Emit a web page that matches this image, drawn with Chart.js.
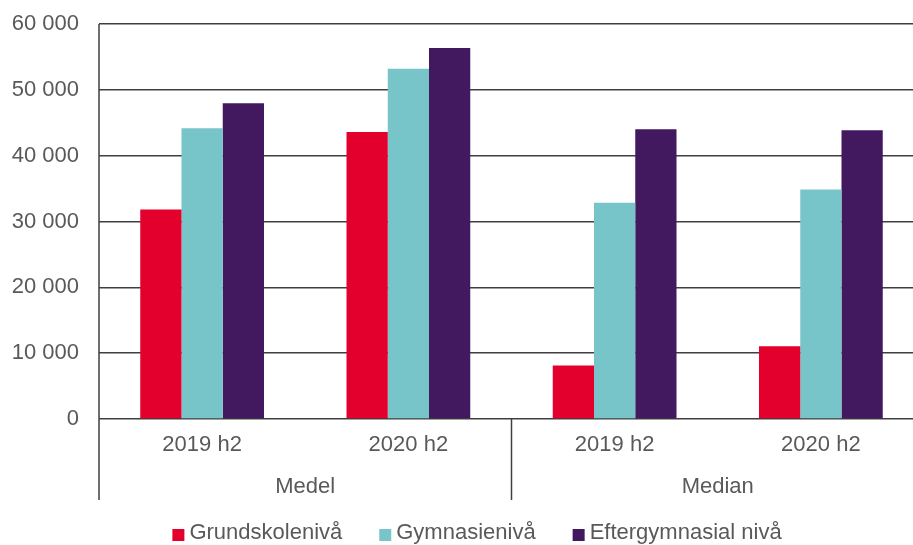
<!DOCTYPE html>
<html>
<head>
<meta charset="utf-8">
<script src="https://cdn.jsdelivr.net/npm/chart.js@4"></script>
<style>
  html, body { margin: 0; padding: 0; background: #fff; overflow: hidden; }
  #wrap { width: 913px; height: 545px; overflow: hidden; }
</style>
</head>
<body>
<div id="wrap"><canvas id="chart" width="924" height="545"></canvas></div>
<script>
const periods = ['2019 h2', '2020 h2', '2019 h2', '2020 h2'];
const groups = ['Medel', 'Median'];
const seriesNames = ['Grundskolenivå', 'Gymnasienivå', 'Eftergymnasial nivå'];
const grundskola = [31830, 43600, 8120, 11060];
const gymnasie = [44160, 53190, 32830, 34870];
const eftergymnasial = [47970, 56340, 44010, 43860];
const colors = ['#e3002c', '#77c5c8', '#42185e'];

const font = '"Liberation Sans", Arial, sans-serif';
const textColor = '#595959';

function fmt(v) {
  return String(v).replace(/\B(?=(\d{3})+(?!\d))/g, ' ');
}

const groupsPlugin = {
  id: 'groups',
  afterDraw(chart) {
    const ctx = chart.ctx;
    const area = chart.chartArea;
    const x = chart.scales.x;
    const bottom = 500;
    ctx.save();
    ctx.strokeStyle = '#3f3f3f';
    ctx.lineWidth = 1.5;
    // left axis line, reaching down past the labels
    ctx.beginPath();
    ctx.moveTo(area.left, area.top);
    ctx.lineTo(area.left, bottom);
    ctx.stroke();
    // separator between the two groups
    const per = periods.length / groups.length;
    const step = x.getPixelForValue(1) - x.getPixelForValue(0);
    for (let g = 1; g < groups.length; g++) {
      const sx = x.getPixelForValue(g * per) - step / 2;
      ctx.beginPath();
      ctx.moveTo(sx, area.bottom);
      ctx.lineTo(sx, bottom);
      ctx.stroke();
    }
    // group labels
    ctx.fillStyle = textColor;
    ctx.font = '22px ' + font;
    ctx.textAlign = 'center';
    ctx.textBaseline = 'middle';
    groups.forEach((name, g) => {
      const a = x.getPixelForValue(g * per) - step / 2;
      const b = x.getPixelForValue(g * per + per - 1) + step / 2;
      ctx.fillText(name, (a + b) / 2, 487);
    });

    // legend
    const box = 12, gap = 5, spacing = 37;
    const widths = seriesNames.map(n => ctx.measureText(n).width);
    const total = widths.reduce((s, w) => s + box + gap + w, 0) + spacing * (seriesNames.length - 1);
    let lx = 477 - total / 2;
    ctx.textAlign = 'left';
    seriesNames.forEach((n, i) => {
      ctx.fillStyle = colors[i];
      ctx.fillRect(lx, 529, box, box);
      ctx.fillStyle = textColor;
      ctx.fillText(n, lx + box + gap, 533);
      lx += box + gap + widths[i] + spacing;
    });
    ctx.restore();
  }
};

new Chart(document.getElementById('chart'), {
  type: 'bar',
  data: {
    labels: periods,
    datasets: [
      { label: seriesNames[0], data: grundskola, backgroundColor: colors[0] },
      { label: seriesNames[1], data: gymnasie, backgroundColor: colors[1] },
      { label: seriesNames[2], data: eftergymnasial, backgroundColor: colors[2] }
    ]
  },
  options: {
    responsive: false,
    animation: false,
    devicePixelRatio: 1,
    layout: { padding: { top: 24, right: 0, bottom: 0, left: 0 } },
    datasets: { bar: { categoryPercentage: 0.6, barPercentage: 1.0, borderWidth: 0 } },
    plugins: { legend: { display: false }, tooltip: { enabled: false } },
    scales: {
      x: {
        grid: { display: false, drawTicks: false },
        border: { display: false },
        ticks: { color: textColor, font: { family: font, size: 22 }, padding: 13, maxRotation: 0 },
        afterFit(scale) { scale.height = 126; scale.paddingLeft = 0; scale.paddingRight = 0; }
      },
      y: {
        min: 0,
        max: 60000,
        grid: { color: '#3f3f3f', lineWidth: 1.5, drawTicks: false },
        border: { display: false },
        ticks: {
          stepSize: 10000,
          color: textColor,
          font: { family: font, size: 22 },
          padding: 20,
          callback: v => fmt(v)
        },
        afterFit(scale) { scale.width = 99; scale.paddingTop = 0; scale.paddingBottom = 0; }
      }
    }
  },
  plugins: [groupsPlugin]
});
</script>
</body>
</html>
